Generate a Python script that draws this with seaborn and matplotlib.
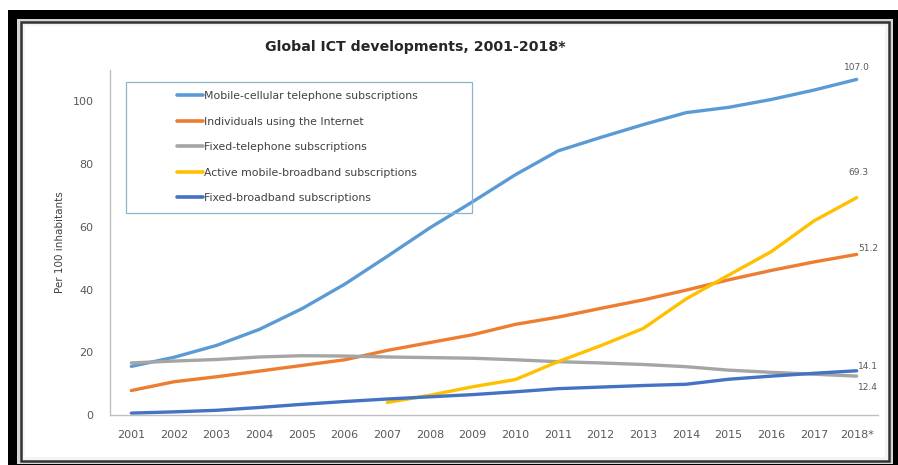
import numpy as np
import pandas as pd
import matplotlib
matplotlib.use('Agg')
import matplotlib.pyplot as plt
import seaborn as sns
from matplotlib.patches import Rectangle

# Data (per 100 inhabitants)
years = list(range(2001, 2019))
year_labels = [str(y) for y in years[:-1]] + ['2018*']

mobile_cellular = [15.5, 18.4, 22.2, 27.3, 33.9, 41.7, 50.6, 59.7, 68.0, 76.6,
                   84.2, 88.5, 92.6, 96.4, 98.1, 100.6, 103.6, 107.0]
internet_users = [7.8, 10.6, 12.2, 14.0, 15.8, 17.6, 20.6, 23.1, 25.6, 28.9,
                  31.2, 34.0, 36.7, 39.8, 43.1, 46.1, 48.8, 51.2]
fixed_telephone = [16.6, 17.2, 17.7, 18.5, 18.9, 18.8, 18.5, 18.3, 18.1, 17.6,
                   17.0, 16.6, 16.1, 15.4, 14.3, 13.6, 13.0, 12.4]
mobile_broadband = [None, None, None, None, None, None, 4.0, 6.3, 9.0, 11.3,
                    17.0, 22.1, 27.6, 37.0, 44.6, 52.1, 61.9, 69.3]
fixed_broadband = [0.6, 1.0, 1.5, 2.4, 3.4, 4.3, 5.1, 5.8, 6.5, 7.4,
                   8.4, 8.9, 9.4, 9.8, 11.4, 12.4, 13.3, 14.1]

series_names = ['Mobile-cellular telephone subscriptions',
                'Individuals using the Internet',
                'Fixed-telephone subscriptions',
                'Active mobile-broadband subscriptions',
                'Fixed-broadband subscriptions']
series_values = [mobile_cellular, internet_users, fixed_telephone,
                 mobile_broadband, fixed_broadband]
colors = ['#5B9BD5', '#ED7D31', '#A5A5A5', '#FFC000', '#4472C4']

rows = []
for name, vals in zip(series_names, series_values):
    for y, v in zip(years, vals):
        rows.append({'Year': y, 'Value': v, 'Series': name})
df = pd.DataFrame(rows).dropna()

sns.set_style('white')
plt.rcParams['font.family'] = ['DejaVu Sans']

W, H = 898, 465
fig = plt.figure(figsize=(W / 100, H / 100), dpi=100)
fig.patch.set_facecolor('white')


def px_rect(x0, y0, x1, y1, **kw):
    # rectangle in pixel coordinates (origin top-left)
    r = Rectangle((x0 / W, 1 - y1 / H), (x1 - x0) / W, (y1 - y0) / H,
                  transform=fig.transFigure, zorder=-5, **kw)
    fig.add_artist(r)


# picture frame
px_rect(8, 10, 900, 470, facecolor='black', edgecolor='none')
px_rect(17, 19, 893, 464, facecolor='#d6d6d6', edgecolor='none')
px_rect(21, 22, 889, 461, facecolor='#f4f4f4', edgecolor='#333333', linewidth=1.8)
px_rect(25, 26, 885, 457, facecolor='white', edgecolor='none')

ax = fig.add_axes([110 / W, 1 - 415 / H, 768 / W, 345 / H])
ax.set_facecolor('none')

sns.lineplot(data=df, x='Year', y='Value', hue='Series', hue_order=series_names,
             palette=colors, linewidth=2.4, ax=ax, sort=True)

ax.set_xlim(2000.5, 2018.5)
ax.set_ylim(0, 110)
ax.set_yticks([0, 20, 40, 60, 80, 100])

# category-style x axis: tick marks between years, labels at years
ax.set_xticks(np.arange(2000.5, 2019.0, 1.0))
ax.set_xticklabels([])
ax.set_xticks(years, minor=True)
ax.set_xticklabels(year_labels, minor=True)
ax.tick_params(axis='x', which='major', length=5, width=1, color='#BFBFBF',
               direction='out')
ax.tick_params(axis='x', which='minor', length=0, pad=11, labelsize=8,
               labelcolor='#595959')
ax.tick_params(axis='y', length=4, width=1, color='#BFBFBF', direction='out',
               pad=8, labelsize=8, labelcolor='#595959')

for s in ['top', 'right']:
    ax.spines[s].set_visible(False)
for s in ['left', 'bottom']:
    ax.spines[s].set_color('#BFBFBF')
    ax.spines[s].set_linewidth(1)

ax.set_xlabel('')
ax.set_ylabel('Per 100 inhabitants', fontsize=7.5, color='#404040')
ax.yaxis.set_label_coords(-0.058, 0.5)

# end-of-line value labels
end_labels = [(mobile_cellular[-1], 0, 5, 'center', 'bottom'),
              (mobile_broadband[-1], 1, 15, 'center', 'bottom'),
              (internet_users[-1], 1, 4, 'left', 'center'),
              (fixed_broadband[-1], 1, 3, 'left', 'center'),
              (fixed_telephone[-1], 1, -8, 'left', 'center')]
for val, dx, dy, ha, va in end_labels:
    ax.annotate(f'{val:.1f}', xy=(years[-1], val), xytext=(dx, dy),
                textcoords='offset points', ha=ha, va=va, fontsize=6.5,
                color='#595959')

# legend
handles, labels = ax.get_legend_handles_labels()
leg = ax.legend(handles, labels, loc='upper left', bbox_to_anchor=(0.087, 0.939),
                frameon=False, fontsize=7.8, handlelength=2.4, handletextpad=0.1,
                labelspacing=1.43, borderpad=0, borderaxespad=0)
for line in leg.get_lines():
    line.set_linewidth(2.6)
for t in leg.get_texts():
    t.set_color('#404040')

ax.add_patch(Rectangle((0.0208, 0.5855), 0.4505, 0.3795, transform=ax.transAxes,
                       facecolor='none', edgecolor='#8EB4CC', linewidth=0.9,
                       zorder=3))

fig.text(415 / W, 1 - 47 / H, 'Global ICT developments, 2001-2018*',
         ha='center', va='center', fontsize=10.2, fontweight='bold',
         color='#262626')

fig.savefig('out.png', dpi=100)
